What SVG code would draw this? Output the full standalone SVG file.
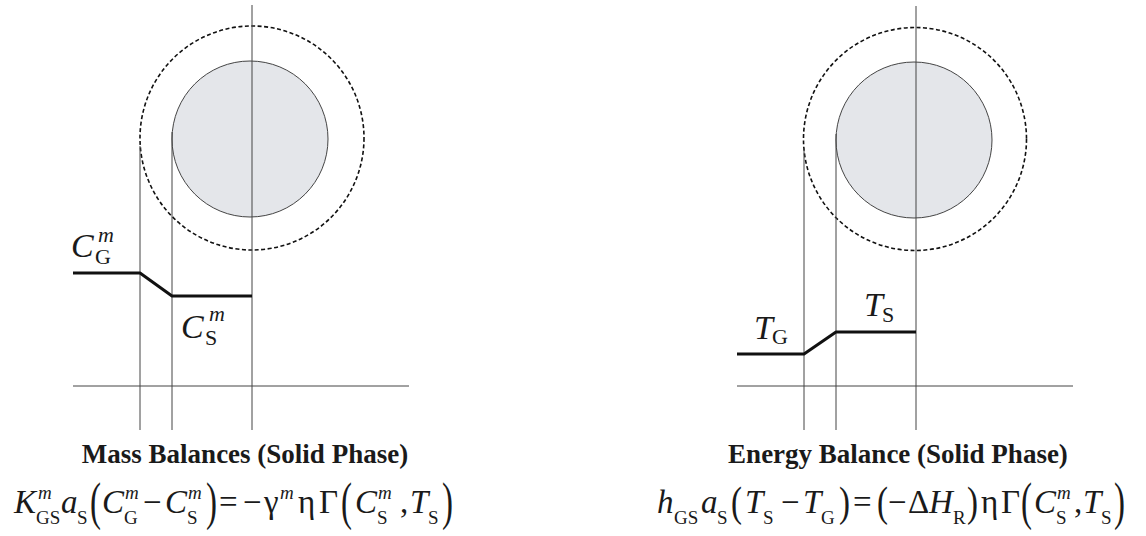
<svg xmlns="http://www.w3.org/2000/svg" width="1146" height="536" viewBox="0 0 1146 536">
<style>
.thin{stroke:#444;stroke-width:1;fill:none}
.dash{stroke:#111;stroke-width:1.6;fill:none;stroke-dasharray:4 2.5}
.part{fill:#e4e6ea;stroke:#444;stroke-width:1}
.prof{stroke:#111;stroke-width:3;fill:none;stroke-linejoin:round}
text{font-family:"Liberation Serif","Times New Roman",serif;fill:#1a1a1a}
.it{font-style:italic}
.big{font-size:34px}
.sub{font-size:22px}
.sup{font-size:22px;font-style:italic}
.title{font-size:27px;font-weight:bold}
.eq{font-size:33px}
.es{font-size:19px}
.bp{font-size:33px}
</style>
<rect width="1146" height="536" fill="#fff"/>

<g id="mass-panel">
  <circle class="part" cx="250" cy="139" r="78"/>
  <circle class="dash" cx="252" cy="138" r="112"/>
  <line class="thin" x1="252" y1="5" x2="252" y2="430"/>
  <line class="thin" x1="140" y1="146" x2="140" y2="430"/>
  <line class="thin" x1="172" y1="132" x2="172" y2="430"/>
  <line class="thin" x1="73" y1="386" x2="409" y2="386"/>
  <polyline class="prof" points="73,273 140,273 172,296 252,296"/>
  <text class="big it" x="71" y="257">C</text>
  <text class="sub" x="95" y="264">G</text>
  <text class="sup" x="98" y="242">m</text>
  <text class="big it" x="181" y="338">C</text>
  <text class="sub" x="205" y="345">S</text>
  <text class="sup" x="209" y="321">m</text>
</g>

<g id="energy-panel">
  <circle class="part" cx="914" cy="140" r="78"/>
  <circle class="dash" cx="915" cy="139" r="111.5"/>
  <line class="thin" x1="916" y1="6" x2="916" y2="430"/>
  <line class="thin" x1="804" y1="148" x2="804" y2="430"/>
  <line class="thin" x1="836" y1="134" x2="836" y2="430"/>
  <line class="thin" x1="737" y1="386" x2="1073" y2="386"/>
  <polyline class="prof" points="737,354 804,354 836,332 916,332"/>
  <text class="big it" x="754" y="339">T</text>
  <text class="sub" x="772" y="344">G</text>
  <text class="big it" x="864" y="316">T</text>
  <text class="sub" x="882" y="322">S</text>
</g>

<g id="mass-caption">
  <text class="title" x="245" y="463" text-anchor="middle">Mass Balances (Solid Phase)</text>
  <text class="eq it" x="14" y="513">K</text>
  <text class="es it" x="38" y="499">m</text>
  <text class="es" x="36" y="524">GS</text>
  <text class="eq it" x="61" y="513">a</text>
  <text class="es" x="77" y="524">S</text>
  <text class="bp" transform="translate(90,519) scale(1,1.6)">(</text>
  <text class="eq it" x="102" y="513">C</text>
  <text class="es it" x="125" y="499">m</text>
  <text class="es" x="124" y="524">G</text>
  <text class="eq" x="143" y="513">−</text>
  <text class="eq it" x="165" y="513">C</text>
  <text class="es it" x="188" y="499">m</text>
  <text class="es" x="187" y="524">S</text>
  <text class="bp" transform="translate(206,519) scale(1,1.6)">)</text>
  <text class="eq" x="219" y="513">=</text>
  <text class="eq" x="243" y="513">−</text>
  <text class="eq" x="264" y="513">γ</text>
  <text class="es it" x="280" y="499">m</text>
  <text class="eq" x="298" y="513">η</text>
  <text class="eq" x="319" y="513">Γ</text>
  <text class="bp" transform="translate(341,519) scale(1,1.6)">(</text>
  <text class="eq it" x="355" y="513">C</text>
  <text class="es it" x="378" y="499">m</text>
  <text class="es" x="377" y="524">S</text>
  <text class="eq" x="400" y="513">,</text>
  <text class="eq it" x="410" y="513">T</text>
  <text class="es" x="428" y="524">S</text>
  <text class="bp" transform="translate(442,519) scale(1,1.6)">)</text>
</g>

<g id="energy-caption">
  <text class="title" x="898" y="463" text-anchor="middle">Energy Balance (Solid Phase)</text>
  <text class="eq it" x="657" y="513">h</text>
  <text class="es" x="674" y="524">GS</text>
  <text class="eq it" x="701" y="513">a</text>
  <text class="es" x="717" y="524">S</text>
  <text class="bp" transform="translate(731,516) scale(1,1.3)">(</text>
  <text class="eq it" x="745" y="513">T</text>
  <text class="es" x="763" y="524">S</text>
  <text class="eq" x="781" y="513">−</text>
  <text class="eq it" x="803" y="513">T</text>
  <text class="es" x="821" y="524">G</text>
  <text class="bp" transform="translate(839,516) scale(1,1.3)">)</text>
  <text class="eq" x="853" y="513">=</text>
  <text class="bp" transform="translate(877,516) scale(1,1.3)">(</text>
  <text class="eq" x="888" y="513">−</text>
  <text class="eq" x="908" y="513">Δ</text>
  <text class="eq it" x="929" y="513">H</text>
  <text class="es" x="953" y="524">R</text>
  <text class="bp" transform="translate(967,516) scale(1,1.3)">)</text>
  <text class="eq" x="981" y="513">η</text>
  <text class="eq" x="1001" y="513">Γ</text>
  <text class="bp" transform="translate(1021,519) scale(1,1.6)">(</text>
  <text class="eq it" x="1034" y="513">C</text>
  <text class="es it" x="1057" y="499">m</text>
  <text class="es" x="1056" y="524">S</text>
  <text class="eq" x="1074" y="513">,</text>
  <text class="eq it" x="1083" y="513">T</text>
  <text class="es" x="1101" y="524">S</text>
  <text class="bp" transform="translate(1114,519) scale(1,1.6)">)</text>
</g>
</svg>
